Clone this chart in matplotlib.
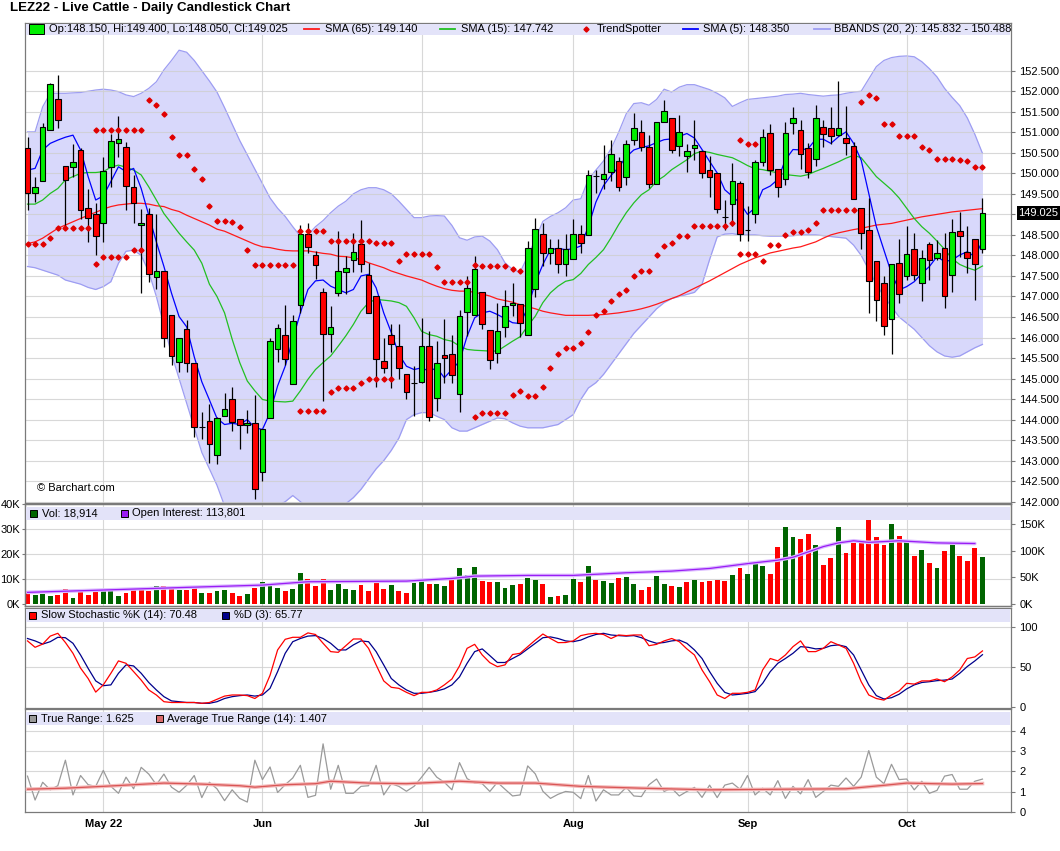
import numpy as np
import pandas as pd
import matplotlib
matplotlib.use("Agg")
import matplotlib.pyplot as plt
from matplotlib.patches import Rectangle
from matplotlib.lines import Line2D
from matplotlib import font_manager
import matplotlib.transforms as mtransforms

plt.rcParams['font.family'] = ['Liberation Sans', 'DejaVu Sans']

# ------------------------------------------------------------------ data
holidays = ['2022-05-30', '2022-06-20', '2022-07-04', '2022-09-05']
dates = pd.bdate_range('2022-04-18', '2022-10-17', freq='C', holidays=holidays)

opens = [150.61, 149.51, 149.81, 151.05, 151.80, 150.19, 150.15, 150.58, 149.15, 149.00,
         148.78, 150.16, 150.75, 150.65, 149.67, 148.74, 149.00, 147.47, 147.63, 146.56,
         145.41, 146.20, 145.37, 143.83, 143.97, 143.14, 144.09, 144.51, 144.02, 143.86,
         143.92, 142.73, 144.05, 145.73, 146.05, 144.86, 146.78, 148.51, 148.02, 147.12,
         146.08, 147.09, 147.60, 147.90, 148.29, 147.52, 147.01, 145.43, 146.05, 145.79,
         145.10, 144.90, 144.92, 145.79, 144.53, 145.57, 145.60, 144.63, 146.63, 146.54,
         147.10, 146.18, 145.63, 146.26, 146.78, 146.82, 146.07, 147.17, 148.53, 148.06,
         148.18, 147.79, 147.92, 148.53, 148.49, 149.93, 149.86, 150.03, 150.31, 149.91,
         150.82, 151.01, 150.64, 149.75, 151.24, 151.35, 150.66, 150.43, 150.62, 150.55,
         150.09, 150.01, 148.93, 149.26, 149.77, 148.61, 149.01, 150.28, 150.98, 150.11,
         149.87, 151.22, 151.05, 150.61, 150.36, 151.14, 151.11, 150.93, 150.85, 150.66,
         149.15, 148.62, 147.86, 147.34, 146.45, 147.81, 147.50, 148.15, 147.34, 148.28,
         147.93, 148.17, 147.52, 148.60, 148.09, 148.40, 148.150]
highs = [150.88, 149.92, 151.22, 152.19, 152.39, 150.19, 150.71, 150.61, 149.63, 149.27,
         150.39, 150.97, 151.40, 150.77, 149.96, 149.13, 149.15, 149.01, 147.63, 146.56,
         146.00, 146.43, 145.37, 144.19, 144.38, 144.07, 144.66, 144.80, 144.02, 144.23,
         144.61, 143.78, 145.99, 146.34, 146.78, 146.54, 148.73, 148.80, 148.11, 147.21,
         146.77, 148.59, 147.98, 148.55, 148.86, 147.82, 147.01, 145.99, 146.32, 146.34,
         145.10, 145.30, 146.48, 146.15, 145.91, 146.46, 146.07, 146.68, 147.51, 147.98,
         147.10, 146.18, 146.83, 147.15, 147.32, 146.82, 148.35, 148.90, 148.78, 148.40,
         148.40, 148.53, 148.89, 148.73, 150.08, 150.08, 150.70, 150.80, 150.40, 150.80,
         151.47, 151.31, 150.93, 151.24, 151.78, 151.35, 151.41, 150.72, 151.31, 150.55,
         150.43, 150.01, 149.36, 150.25, 149.81, 149.20, 150.33, 151.07, 151.19, 150.11,
         151.24, 151.62, 151.31, 150.73, 151.66, 151.30, 151.62, 152.26, 151.65, 150.77,
         149.15, 149.39, 147.86, 147.50, 147.78, 148.40, 148.72, 148.55, 148.12, 148.33,
         148.37, 148.54, 148.88, 149.07, 148.72, 148.40, 149.400]
lows = [149.11, 149.31, 149.81, 151.05, 151.10, 148.66, 149.92, 148.88, 148.33, 148.01,
        148.33, 149.67, 150.40, 149.11, 148.78, 147.08, 147.36, 147.17, 145.76, 145.33,
        145.17, 145.17, 143.57, 143.52, 142.95, 142.93, 144.09, 143.71, 143.29, 143.68,
        142.06, 142.50, 144.05, 145.40, 145.32, 144.86, 146.60, 148.07, 147.42, 144.45,
        145.65, 147.01, 147.07, 147.59, 147.59, 146.60, 144.80, 145.14, 144.78, 144.99,
        144.49, 144.08, 144.90, 143.96, 144.21, 144.90, 144.90, 144.18, 146.03, 146.54,
        146.20, 145.24, 145.38, 146.01, 146.52, 146.01, 146.07, 146.99, 147.74, 147.78,
        147.56, 147.49, 147.92, 148.06, 148.49, 149.52, 149.62, 149.81, 149.58, 149.71,
        150.70, 150.54, 149.64, 149.75, 151.24, 150.50, 150.43, 150.03, 150.33, 149.89,
        149.43, 149.04, 148.63, 148.71, 148.35, 148.35, 148.79, 150.17, 149.97, 149.43,
        149.71, 150.96, 150.10, 149.88, 150.18, 150.63, 150.71, 150.90, 150.45, 149.37,
        148.15, 146.59, 146.41, 146.06, 145.59, 146.83, 147.40, 147.40, 146.90, 147.40,
        147.89, 146.73, 147.10, 147.96, 147.56, 146.91, 148.050]
closes = [149.51, 149.67, 151.14, 152.17, 151.30, 149.84, 150.27, 149.11, 148.90, 148.47,
          150.06, 150.79, 150.83, 149.70, 149.27, 148.80, 147.54, 147.63, 145.98, 145.55,
          146.00, 145.37, 143.81, 143.83, 143.41, 144.03, 144.27, 143.95, 143.86, 143.92,
          142.32, 143.78, 145.91, 146.24, 145.48, 146.40, 148.51, 148.21, 147.77, 146.08,
          146.26, 147.63, 147.70, 148.09, 147.78, 146.60, 145.48, 145.26, 145.83, 145.26,
          144.67, 144.90, 145.79, 144.07, 145.38, 145.51, 145.08, 146.52, 147.21, 147.67,
          146.34, 145.46, 146.15, 146.76, 146.84, 146.36, 148.18, 148.65, 148.06, 148.18,
          147.79, 148.16, 148.53, 148.31, 149.95, 149.93, 149.99, 150.47, 149.67, 150.72,
          151.11, 150.64, 149.75, 151.24, 151.51, 150.58, 151.00, 150.55, 150.68, 150.01,
          149.91, 149.12, 148.93, 149.81, 148.51, 148.61, 150.28, 150.89, 150.09, 149.67,
          150.98, 151.36, 150.46, 150.04, 151.34, 150.97, 150.91, 151.10, 150.75, 149.37,
          148.55, 147.38, 146.91, 146.28, 147.78, 147.05, 148.03, 147.52, 147.93, 147.89,
          148.05, 147.01, 148.58, 148.47, 147.93, 147.79, 149.025]

volume_k = [5.2, 3.6, 4.0, 3.2, 3.6, 6.2, 2.3, 5.2, 3.6, 5.2,
            5.6, 5.3, 3.2, 4.3, 6.3, 6.3, 5.2, 7.2, 7.2, 6.3,
            5.6, 5.6, 6.7, 4.3, 4.3, 5.2, 5.6, 4.3, 3.2, 3.9,
            6.3, 8.7, 8.3, 6.3, 5.2, 5.9, 12.3, 9.9, 7.2, 10.2,
            5.6, 7.9, 5.9, 5.6, 7.6, 5.2, 8.3, 6.0, 7.5, 5.2,
            4.3, 8.3, 9.2, 7.9, 7.9, 7.2, 9.6, 14.3, 11.6, 14.7,
            9.2, 8.7, 8.7, 6.3, 7.6, 7.9, 10.3, 9.6, 8.0, 2.7,
            3.3, 3.7, 10.0, 8.8, 15.2, 9.6, 9.2, 8.4, 10.4, 10.8,
            8.0, 5.6, 6.8, 11.2, 8.0, 7.2, 6.8, 8.8, 9.6, 8.9,
            9.2, 9.6, 9.2, 11.6, 14.4, 12.0, 16.0, 15.2, 12.0, 22.8,
            30.8, 26.8, 26.0, 28.0, 23.6, 15.6, 18.4, 30.8, 20.4, 24.4,
            24.4, 34.0, 26.8, 23.6, 32.0, 27.2, 25.6, 19.2, 21.6, 16.4,
            14.4, 21.2, 24.0, 19.2, 17.2, 22.4, 18.914]

oi_idx = [0, 10, 21, 31, 37, 50, 56, 59, 66, 72, 79, 85, 90, 95, 99, 101, 103, 105, 107, 109, 111, 115, 120, 125]
oi_k = [21.9, 26.3, 31.3, 35.6, 41.9, 43.1, 48.1, 52.5, 53.8, 53.8, 58.8, 61.9, 66.9, 76.0, 82.5, 88.0,
        98.0, 108.0, 115.0, 119.0, 116.0, 119.0, 115.0, 113.801]

sma65 = [148.29, 148.33, 148.42, 148.54, 148.66, 148.74, 148.82, 148.90, 148.98, 149.05, 149.13, 149.19, 149.23,
         149.25, 149.27, 149.27, 149.25, 149.21, 149.19, 149.12, 149.07, 148.98, 148.90, 148.82, 148.74, 148.64,
         148.59, 148.51, 148.43, 148.35, 148.27, 148.21, 148.19, 148.15, 148.12, 148.11, 148.11, 148.11, 148.08,
         148.05, 148.03, 147.98, 147.97, 147.94, 147.90, 147.82, 147.76, 147.70, 147.62, 147.56, 147.50,
         147.45, 147.40, 147.32, 147.25, 147.19, 147.15, 147.13, 147.13, 147.10, 147.06, 147.01, 146.94, 146.90,
         146.86, 146.80, 146.75, 146.70, 146.64, 146.60, 146.57, 146.54, 146.54, 146.54, 146.54, 146.55,
         146.56, 146.58, 146.60, 146.63, 146.66, 146.70, 146.75, 146.81, 146.88, 146.95, 147.02, 147.11, 147.20,
         147.29, 147.38, 147.48, 147.58, 147.68, 147.78, 147.86, 147.94, 148.00, 148.06, 148.10, 148.14,
         148.18, 148.21, 148.27, 148.33, 148.42, 148.50, 148.55, 148.59, 148.63, 148.66, 148.70, 148.74, 148.76,
         148.78, 148.82, 148.86, 148.90, 148.94, 148.97, 149.00, 149.03, 149.06, 149.08, 149.10, 149.12, 149.140]
sma15 = [149.25, 149.25, 149.35, 149.51, 149.63, 149.84, 149.92, 150.00, 150.02, 150.02, 150.04, 150.15, 150.20,
         150.15, 150.08, 149.96, 149.67, 149.35, 149.02, 148.78, 148.54, 148.33, 148.13, 147.81, 147.30, 147.00,
         146.60, 145.96, 145.39, 144.94, 144.70, 144.49, 144.45, 144.44, 144.43, 144.45, 144.70, 144.98, 145.22,
         145.39, 145.55, 145.79, 146.04, 146.32, 146.64, 146.85, 146.93, 146.91, 146.89, 146.85, 146.76,
         146.48, 146.15, 146.07, 146.03, 145.95, 145.91, 145.79, 145.71, 145.69, 145.68, 145.67, 145.67, 145.79,
         145.91, 146.02, 146.28, 146.52, 146.85, 147.09, 147.25, 147.37, 147.41, 147.56, 147.78, 147.95,
         148.14, 148.43, 148.75, 149.04, 149.28, 149.48, 149.60, 149.81, 149.93, 150.09, 150.21, 150.33, 150.48,
         150.54, 150.51, 150.46, 150.42, 150.38, 150.29, 150.19, 150.11, 150.09, 150.05, 150.01, 149.97,
         149.95, 149.93, 149.97, 150.05, 150.12, 150.20, 150.28, 150.37, 150.44, 150.38, 150.15, 149.92, 149.76,
         149.60, 149.40, 149.15, 148.90, 148.70, 148.54, 148.35, 148.15, 147.92, 147.78, 147.70, 147.64, 147.742]
sma5 = [150.08, 150.12, 150.57, 150.73, 150.81, 150.88, 150.93, 150.57, 149.92, 149.35, 149.45, 149.80, 150.16,
        150.04, 150.12, 149.63, 148.98, 148.33, 147.73, 147.08, 146.51, 146.26, 145.53, 144.92, 144.48, 144.03,
        143.88, 143.91, 143.88, 144.00, 143.80, 143.76, 144.17, 144.82, 145.30, 145.96, 146.60, 147.17, 147.38,
        147.40, 147.25, 147.17, 147.09, 147.17, 147.50, 147.54, 147.21, 146.60, 146.12, 145.59, 145.30,
        145.22, 145.26, 145.18, 145.26, 145.02, 145.22, 145.42, 146.03, 146.48, 146.60, 146.64, 146.56, 146.46,
        146.36, 146.34, 146.72, 147.33, 147.78, 148.14, 148.17, 148.14, 148.16, 148.23, 148.70, 149.30,
        149.70, 149.95, 150.15, 150.40, 150.57, 150.63, 150.67, 150.75, 150.82, 150.84, 150.90, 150.97, 150.86,
        150.58, 150.29, 150.01, 149.60, 149.44, 149.28, 149.00, 149.16, 149.60, 149.69, 149.85, 150.33,
        150.58, 150.57, 150.60, 150.83, 150.83, 150.73, 150.89, 151.01, 150.73, 150.32, 149.51, 148.70, 148.13,
        147.56, 147.16, 147.24, 147.36, 147.56, 147.73, 147.97, 147.85, 147.89, 148.01, 148.09, 147.97, 148.350]
bb_upper = [151.01, 151.01, 151.62, 151.95, 151.95, 151.95, 151.96, 151.97, 152.00, 152.03, 152.05, 152.03, 151.99,
            151.91, 151.87, 151.95, 152.07, 152.23, 152.52, 152.75, 153.00, 152.95, 152.75, 152.50, 152.25, 151.98,
            151.60, 151.20, 150.80, 150.45, 150.10, 149.75, 149.40, 149.15, 148.95, 148.70, 148.47, 148.50, 148.70,
            148.85, 149.04, 149.20, 149.32, 149.50, 149.60, 149.65, 149.65, 149.60, 149.50, 149.32, 149.12,
            148.92, 148.92, 148.96, 148.97, 148.96, 148.73, 148.43, 148.37, 148.45, 148.47, 148.35, 148.14, 147.82,
            147.66, 147.59, 147.98, 148.39, 148.83, 148.95, 149.04, 149.16, 149.35, 149.38, 149.85, 150.08,
            150.30, 150.60, 151.00, 151.45, 151.70, 151.72, 151.66, 151.80, 152.05, 151.98, 152.10, 152.16, 152.16,
            152.10, 152.04, 151.95, 151.84, 151.63, 151.72, 151.80, 151.82, 151.84, 151.86, 151.88, 151.92,
            151.93, 151.95, 151.92, 151.90, 151.88, 151.90, 151.91, 151.95, 151.98, 152.00, 152.30, 152.60, 152.75,
            152.82, 152.85, 152.86, 152.84, 152.72, 152.55, 152.35, 152.07, 151.85, 151.65, 151.35, 150.95, 150.488]
bb_lower = [147.73, 147.70, 147.64, 147.58, 147.52, 147.40, 147.35, 147.30, 147.22, 147.17, 147.24, 147.36, 147.81,
            148.10, 148.13, 148.00, 147.60, 147.00, 146.30, 145.60, 145.00, 144.40, 143.80, 143.20, 142.80, 142.40,
            141.90, 141.70, 141.60, 141.60, 141.60, 141.70, 141.80, 141.90, 142.00, 142.15, 142.00, 141.85, 141.75,
            141.70, 141.75, 141.85, 141.95, 142.10, 142.30, 142.55, 142.80, 143.00, 143.25, 143.55, 144.00,
            144.12, 144.17, 144.17, 144.08, 144.00, 143.80, 143.72, 143.72, 143.80, 143.88, 143.96, 144.04, 144.02,
            143.92, 143.84, 143.80, 143.80, 143.80, 143.84, 143.88, 144.00, 144.12, 144.49, 144.77, 144.90,
            145.10, 145.35, 145.60, 145.85, 146.10, 146.30, 146.50, 146.70, 146.85, 146.95, 147.00, 147.05, 147.10,
            147.30, 147.90, 148.45, 148.52, 148.53, 148.50, 148.50, 148.50, 148.48, 148.47, 148.47, 148.47,
            148.48, 148.50, 148.50, 148.50, 148.48, 148.46, 148.44, 148.42, 148.25, 148.00, 147.65, 147.30, 147.00,
            146.75, 146.50, 146.35, 146.20, 146.00, 145.80, 145.65, 145.55, 145.52, 145.55, 145.65, 145.75, 145.832]

NA = None
ts_below = ([148.28] * 3 + [148.42] + [148.66] * 5 + [147.79] + [147.95] * 4 + [148.13] * 2 + [NA] * 20 +
            [144.22] * 4 + [144.67] + [144.78] * 3 + [144.90] + [145.00] * 4 + [NA] * 10 +
            [144.06] + [144.17] * 4 + [144.59, 144.69] + [144.57] * 2 + [144.80, 145.26, 145.59] +
            [145.75] * 2 + [145.87, 146.14, 146.56, 146.65, 146.90, 147.05, 147.15, 147.49] + [147.61] * 2 +
            [148.00, 148.22, 148.31] + [148.47] * 2 + [148.71] * 5 + [148.79] + [148.04] * 3 + [147.86] +
            [148.26] * 2 + [148.50] + [148.56] * 2 + [148.62, 148.78] + [149.11] * 5 + [NA] * 17)
ts_above = ([NA] * 9 + [151.05] * 7 + [151.79, 151.66, 151.44, 150.88] + [150.45] * 2 +
            [150.10, 149.85, 149.20, 148.84, 148.84, 148.81, 148.70, 148.13] + [147.77] * 6 + [148.59] * 4 +
            [148.35] * 6 + [148.31] * 3 + [147.86] + [148.04] * 4 + [147.72] + [147.36] * 4 + [147.76] +
            [147.75] * 4 + [147.66, 147.63] + [NA] * 28 + [150.81] + [150.72] * 2 + [NA] * 13 +
            [151.73, 151.91, 151.83] + [151.20] * 2 + [150.91] * 3 + [150.63, 150.58] + [150.34] * 3 +
            [150.32, 150.30] + [150.15] * 2)

stoch_k = [83, 75, 79, 89, 92.5, 81, 67.5, 49, 36, 19,
           28, 42.5, 58, 55, 44.6, 34, 21.7, 15.4, 7, 6,
           6, 6, 6, 5, 6, 10, 14, 15.4, 15.4, 14.6,
           11, 17.5, 40, 71.7, 85, 87.5, 87.5, 93, 91, 80,
           69.6, 68.7, 77, 85.4, 85.4, 73.7, 53, 33, 25, 23.7,
           18.7, 14.6, 18.7, 18.7, 21.7, 28, 35.4, 51.7, 73.7, 78.7,
           65.4, 55.8, 50.8, 53, 66, 67.5, 75.8, 84, 91.6, 86,
           80.8, 81, 83, 89.6, 91.6, 92.5, 91, 86, 90.4, 89.6,
           90.4, 90.4, 77, 78.7, 83, 86, 82, 73, 65.4, 46.7,
           32, 15.4, 11, 17.5, 17.5, 18.7, 21.7, 46.7, 61, 58,
           65.4, 75.8, 83, 69.6, 69.6, 73.7, 82, 78, 73.7, 55,
           32, 15.4, 11, 9, 15.4, 20.4, 30, 29, 33, 33,
           35.4, 32, 38, 46.7, 61, 63, 70.48]
stoch_d = [86, 83, 79, 82, 87.5, 87, 80, 65.4, 48.7, 33,
           27, 28, 42.5, 53, 51.7, 42.5, 31, 21.7, 13.3, 8,
           7, 6, 6, 5, 5, 7, 11, 13.3, 14.6, 15.4,
           14, 15.4, 23.7, 44.6, 67.5, 82, 86, 89, 89.6, 86,
           80, 71.7, 71.7, 78, 83, 82, 69.6, 53, 36, 28,
           21.7, 17.5, 17.5, 18.7, 20.4, 23, 28, 38, 55, 69.6,
           73, 64.6, 56, 56, 61, 66, 73, 80, 87, 88,
           86, 83, 82, 84, 88, 91, 92.5, 90.4, 89.6, 89,
           89.6, 87, 83, 80, 81, 83, 84, 80, 71.7, 61,
           44.6, 30, 18.7, 15.4, 16.3, 17.5, 19.6, 30, 44.6, 55,
           61, 67.5, 75.8, 75, 73, 73.7, 77, 78, 75.8, 65.4,
           46.7, 28, 14.6, 10.4, 12, 16.3, 23, 28, 31, 32,
           33.3, 34, 35.4, 42.5, 51, 58, 65.77]

true_range = [1.77, 0.6, 1.47, 1.1, 1.3, 2.55, 0.85, 1.8, 1.35, 1.27,
              2.05, 1.27, 0.93, 1.72, 1.15, 2.2, 1.87, 1.35, 1.87, 1.23,
              0.98, 1.32, 1.8, 0.72, 1.47, 1.15, 0.57, 1.1, 0.68, 0.5,
              2.55, 1.6, 2.22, 0.97, 1.35, 1.68, 2.3, 0.73, 0.83, 3.35,
              1.13, 2.3, 0.93, 0.93, 1.27, 1.3, 2.3, 0.85, 1.4, 1.27,
              1.03, 1.27, 1.72, 2.2, 1.72, 1.47, 1.1, 2.43, 1.65, 1.43,
              1.4, 1.02, 1.47, 1.13, 0.8, 0.85, 2.27, 1.88, 1.03, 0.68,
              0.88, 1.02, 0.98, 0.67, 1.8, 0.55, 1.1, 0.85, 0.85, 1.22,
              0.8, 0.77, 1.35, 1.63, 1.02, 1.18, 0.8, 1.02, 1.22, 0.73,
              1.33, 0.72, 1.33, 1.43, 1.13, 1.8, 0.85, 1.18, 0.85, 1.55,
              0.68, 1.27, 0.9, 1.6, 0.73, 1.02, 1.33, 1.27, 1.68, 1.27,
              1.72, 3.02, 1.72, 1.4, 2.35, 1.6, 1.63, 1.1, 1.52, 0.93,
              1.07, 1.77, 1.85, 1.13, 1.13, 1.52, 1.625]
atr_idx = [0, 5, 10, 14, 18, 23, 28, 30, 34, 38, 40, 45, 50, 57, 62, 67, 73, 81, 90, 100, 108, 113, 116, 122, 126]
atr_val = [1.13, 1.18, 1.27, 1.35, 1.43, 1.38, 1.30, 1.23, 1.35, 1.40, 1.52, 1.43, 1.40, 1.52, 1.43, 1.43,
           1.27, 1.18, 1.10, 1.13, 1.15, 1.32, 1.43, 1.38, 1.407]

price_ticks = [142.0, 142.5, 143.0, 143.5, 144.0, 144.5, 145.0, 145.5, 146.0, 146.5, 147.0, 147.5,
               148.0, 148.5, 149.0, 149.5, 150.0, 150.5, 151.0, 151.5, 152.0, 152.5]
vol_ticks = [0, 10, 20, 30, 40]
oi_ticks = [0, 50, 100, 150]
stoch_ticks = [0, 50, 100]
atr_ticks = [0, 1, 2, 3, 4]

# ------------------------------------------------------------------ figure
W, H = 1060, 851
L, R = 24.5, 1011.0
X0, DX = 27.5, 7.579          # pixel position of bar 0 and bar spacing
fig = plt.figure(figsize=(W / 100, H / 100), dpi=100)
fig.patch.set_facecolor('white')

def add_ax(top, bottom):
    return fig.add_axes([L / W, 1 - bottom / H, (R - L) / W, (bottom - top) / H])

ax = add_ax(22.7, 502.5)
axv = add_ax(504, 606)
axs = add_ax(607.5, 707.5)
axa = add_ax(708.5, 812.3)

n = len(closes)
x = np.arange(n)
xlim = ((L - X0) / DX, (R - X0) / DX)
month_idx = [i for i in range(1, n) if dates[i].month != dates[i - 1].month]
month_lab = [dates[i].strftime('%b') for i in month_idx]
month_lab[0] = dates[month_idx[0]].strftime('%b %y')

GRID = '#cfcfcf'
SPINE = '#7a7a7a'
GREEN = '#00ee00'
RED = '#ff0000'

for a in (ax, axv, axs, axa):
    a.set_xlim(*xlim)
    for s in a.spines.values():
        s.set_color(SPINE)
        s.set_linewidth(0.9)
    for m in month_idx:
        a.axvline(m, color=GRID, lw=0.8, zorder=1, alpha=0.8)
    a.set_xticks([])

# ---- main price panel
o = np.array(opens); h = np.array(highs); l = np.array(lows); c = np.array(closes)
ax.set_ylim(141.98, 153.67)
ax.fill_between(x, bb_lower, bb_upper, color='#d8d8fb', lw=0, zorder=0.5)
ax.plot(x, bb_upper, color='#9d9df2', lw=0.9, zorder=0.6)
ax.plot(x, bb_lower, color='#9d9df2', lw=0.9, zorder=0.6)
for v in price_ticks:
    ax.axhline(v, color=GRID, lw=0.8, zorder=1, alpha=0.8)
ax.plot(x, sma65, color='#ff1a1a', lw=0.9, zorder=2)
ax.plot(x, sma15, color='#22c022', lw=0.9, zorder=2)
ax.plot(x, sma5, color='#0000ff', lw=0.9, zorder=2)

cols = np.where(c > o, GREEN, np.where(c < o, RED, 'black'))
ax.vlines(x, l, h, color='black', lw=0.9, zorder=3)
ax.bar(x, np.abs(c - o), 0.74, bottom=np.minimum(o, c), color=cols, edgecolor='black',
       lw=0.8, zorder=3.5)

tsb = np.array([np.nan if v is None else v for v in ts_below], dtype=float)
tsa = np.array([np.nan if v is None else v for v in ts_above], dtype=float)
ax.plot(x, tsb, ls='none', marker='D', ms=2.6, color='#e00000', zorder=4)
ax.plot(x, tsa, ls='none', marker='D', ms=2.6, color='#e00000', zorder=4)

ax.yaxis.tick_right()
ax.set_yticks(price_ticks)
ax.set_yticklabels([f'{v:.3f}' for v in price_ticks])
ax.tick_params(axis='y', length=3, width=0.8, color=SPINE, pad=3, labelsize=8)

trans = mtransforms.blended_transform_factory(ax.transAxes, ax.transData)
ax.text((1018.5 - L) / (R - L), c[-1], f'{c[-1]:.3f}', transform=trans, ha='left', va='center',
        color='white', fontsize=8, clip_on=False, zorder=20,
        bbox=dict(boxstyle='square,pad=0.18', fc='black', ec='none'))

# ---- volume panel
vol_up = [c[0] >= o[0]] + [c[i] >= c[i - 1] for i in range(1, n)]
vcols = ['#006400' if u else RED for u in vol_up]
axv.set_ylim(-0.8, 40)
for v in (10, 20, 30):
    axv.axhline(v, color=GRID, lw=0.8, zorder=1, alpha=0.8)
axv.bar(x, volume_k, 0.64, color=vcols, zorder=2)
axv.set_yticks(vol_ticks)
axv.set_yticklabels([f'{v}K' for v in vol_ticks])
axv.tick_params(axis='y', left=True, right=False, length=2.5, width=0.8, color=SPINE, pad=0.5, labelsize=8)
axo = axv.twinx()
axo.set_xlim(*xlim)
axo.set_ylim(-3.76, 188.2)
axo.plot(oi_idx, oi_k, color='#dcbcff', lw=2.6, zorder=2, solid_capstyle='round')
axo.plot(oi_idx, oi_k, color='#9a1cf5', lw=0.9, zorder=3)
axo.set_yticks(oi_ticks)
axo.set_yticklabels([f'{v}K' for v in oi_ticks])
axo.tick_params(axis='y', length=3, width=0.8, color=SPINE, pad=3, labelsize=8)
for s in axo.spines.values():
    s.set_color(SPINE)
    s.set_linewidth(0.9)

# ---- stochastic panel
axs.set_ylim(-0.25, 124.75)
for v in (50, 100):
    axs.axhline(v, color=GRID, lw=0.8, zorder=1, alpha=0.8)
axs.plot(x, stoch_k, color='#ff0000', lw=0.9, zorder=3)
axs.plot(x, stoch_d, color='#00008b', lw=0.9, zorder=2)
axs.yaxis.tick_right()
axs.set_yticks(stoch_ticks)
axs.set_yticklabels([str(v) for v in stoch_ticks])
axs.tick_params(axis='y', length=3, width=0.8, color=SPINE, pad=3, labelsize=8)

# ---- ATR panel
axa.set_ylim(0, 5.08)
for v in (1, 2, 3, 4):
    axa.axhline(v, color=GRID, lw=0.8, zorder=1, alpha=0.8)
axa.plot(x, true_range, color='#9a9a9a', lw=0.9, zorder=2)
axa.plot(atr_idx, atr_val, color='#f4baba', lw=2.6, zorder=3)
axa.plot(atr_idx, atr_val, color='#d95555', lw=0.9, zorder=3.5)
axa.yaxis.tick_right()
axa.set_yticks(atr_ticks)
axa.set_yticklabels([str(v) for v in atr_ticks])
axa.tick_params(axis='y', length=3, width=0.8, color=SPINE, pad=3, labelsize=8)
axa.set_xticks(month_idx)
axa.set_xticklabels(month_lab, fontweight='bold', fontsize=8)
axa.tick_params(axis='x', length=0, pad=5)

# ------------------------------------------------------------------ legends (figure pixels)
BAND = '#e3e3f9'

def fy(y):
    return 1 - y / H

def band(y0, y1):
    fig.add_artist(Rectangle(((L + 1) / W, fy(y1)), (R - L - 2) / W, (y1 - y0) / H,
                             transform=fig.transFigure, facecolor=BAND, edgecolor='none', zorder=5))

def ftext(xp, yp, s, **kw):
    fig.text(xp / W, fy(yp), s, ha='left', va='center', fontsize=8, zorder=7, **kw)

def fbox(x0, y0, x1, y1, fc):
    fig.add_artist(Rectangle((x0 / W, fy(y1)), (x1 - x0) / W, (y1 - y0) / H, transform=fig.transFigure,
                             facecolor=fc, edgecolor='black', lw=0.7, zorder=6))

def fline(x0, x1, yp, col):
    fig.add_artist(Line2D([x0 / W, x1 / W], [fy(yp), fy(yp)], color=col, lw=1.3,
                          transform=fig.transFigure, zorder=6))

band(23.5, 35.0)
fbox(29, 24.5, 44, 33.5, GREEN)
ftext(49, 29.3, f'Op:{o[-1]:.3f}, Hi:{h[-1]:.3f}, Lo:{l[-1]:.3f}, Cl:{c[-1]:.3f}')
fline(304, 319, 29, '#ff1a1a')
ftext(325, 29.3, f'SMA (65): {sma65[-1]:.3f}')
fline(440, 455, 29, '#22c022')
ftext(461, 29.3, f'SMA (15): {sma15[-1]:.3f}')
fig.add_artist(Line2D([586 / W], [fy(29)], ls='none', marker='D', ms=2.6, color='#e00000',
                      transform=fig.transFigure, zorder=6))
ftext(597, 29.3, 'TrendSpotter')
fline(683, 698, 29, '#0000ff')
ftext(703, 29.3, f'SMA (5): {sma5[-1]:.3f}')
fline(814, 830, 29, '#9d9df2')
ftext(834, 29.3, f'BBANDS (20, 2): {bb_lower[-1]:.3f} - {bb_upper[-1]:.3f}')

band(506.5, 519.5)
fbox(30, 509.5, 37, 516.5, '#006400')
ftext(41.5, 513.3, f'Vol: {volume_k[-1] * 1000:,.0f}')
fbox(121, 509.5, 128, 516.5, '#9a1cf5')
ftext(132.5, 513.3, f'Open Interest: {oi_k[-1] * 1000:,.0f}')

band(608.5, 622.0)
fbox(28.5, 611.5, 35.5, 618.5, '#ff0000')
ftext(41, 615.5, f'Slow Stochastic %K (14): {stoch_k[-1]:.2f}')
fbox(222, 611.5, 229, 618.5, '#00008b')
ftext(234, 615.5, f'%D (3): {stoch_d[-1]:.2f}')

band(711.5, 725.0)
fbox(28.5, 714.5, 35.5, 721.5, '#9a9a9a')
ftext(41, 718.5, f'True Range: {true_range[-1]:.3f}')
fbox(156, 714.5, 163, 721.5, '#d96a6a')
ftext(167, 718.5, f'Average True Range (14): {atr_val[-1]:.3f}')

ftext(37, 488, '\u00a9 Barchart.com')

names = {f.name for f in font_manager.fontManager.ttflist}
if 'Liberation Sans Narrow' in names:
    fig.text(10 / W, fy(8.5), 'LEZ22 - Live Cattle - Daily Candlestick Chart', ha='left', va='center',
             fontsize=10, fontweight='bold', family=['Liberation Sans Narrow', 'DejaVu Sans'])
else:
    fig.text(10 / W, fy(8.5), 'LEZ22 - Live Cattle - Daily Candlestick Chart', ha='left', va='center',
             fontsize=9.6, fontweight='bold', family=['Liberation Sans', 'DejaVu Sans'])

fig.savefig('out.png', dpi=100)
